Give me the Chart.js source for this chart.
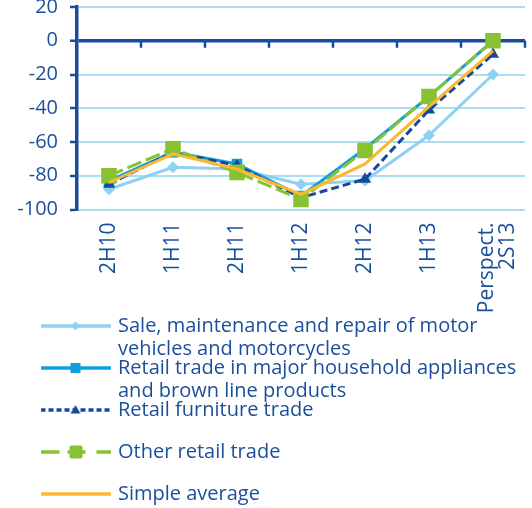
<!DOCTYPE html>
<html>
<head>
<meta charset="utf-8">
<script src="https://cdn.jsdelivr.net/npm/chart.js@4.4.0/dist/chart.umd.min.js"></script>
<style>
  html, body { margin: 0; padding: 0; background: #fff; }
</style>
</head>
<body>
<canvas id="retailChart" width="532" height="508"></canvas>
<script>
// Half-year periods on the x axis
const periods = ['2H10', '1H11', '2H11', '1H12', '2H12', '1H13', ['Perspect.', '2S13']];

// Balance of opinions per sector
const motorVehicles = [-88, -75, -76, -85, -83, -56, -20];
const householdAppliances = [-83, -66, -73, -92, -64, -33, 0];
const furnitureTrade = [-85, -66, -74, -93, -82, -41, -8];
const otherRetail = [-80, -64, -78, -94, -65, -33, 0];
const simpleAverage = [-84, -67, -76, -91, -73, -39, -6];

const yTicks = [-100, -80, -60, -40, -20, 0, 20];

const seriesNames = [
    ['Sale, maintenance and repair of motor', 'vehicles and motorcycles'],
    ['Retail trade in major household appliances', 'and brown line products'],
    ['Retail furniture trade'],
    ['Other retail trade'],
    ['Simple average']
];

const textBlue = '#1b4f9e';
const axisBlue = '#1a4c9c';
const gridBlue = '#aadcf4';
const lightBlue = '#8fd1f2';
const brightBlue = '#0d9fe0';
const darkBlue = '#17489a';
const green = '#86c232';
const orange = '#fbb832';

Chart.defaults.font.family = "'Open Sans', sans-serif";
Chart.defaults.color = textBlue;

// little line + marker pictures used as legend symbols
function makeSample(color, marker, dashed) {
    const c = document.createElement('canvas');
    c.width = 70;
    c.height = 20;
    const g = c.getContext('2d');
    g.strokeStyle = color;
    g.fillStyle = color;
    g.lineWidth = 3.5;
    const segs = dashed === 'long' ? [[0, 19], [27, 45], [56, 70]] : [[0, 70]];
    if (dashed === 'short') g.setLineDash([5, 3]);
    segs.forEach(s => {
        g.beginPath();
        g.moveTo(s[0], 10);
        g.lineTo(s[1], 10);
        g.stroke();
    });
    g.setLineDash([]);
    g.beginPath();
    if (marker === 'diamond') {
        g.moveTo(35, 5.5); g.lineTo(39.5, 10); g.lineTo(35, 14.5); g.lineTo(30.5, 10);
    } else if (marker === 'square') {
        g.rect(30, 5, 10, 10);
    } else if (marker === 'bigsquare') {
        g.roundRect(29, 3.5, 13, 13, 2);
    } else if (marker === 'triangle') {
        g.moveTo(35, 5); g.lineTo(40, 13.5); g.lineTo(30, 13.5);
    }
    g.closePath();
    g.fill();
    return c;
}

const legendSamples = [
    makeSample(lightBlue, 'diamond'),
    makeSample(brightBlue, 'square'),
    makeSample(darkBlue, 'triangle', 'short'),
    makeSample(green, 'bigsquare', 'long'),
    makeSample(orange, null)
];

// short marks hanging under the zero line between periods
const zeroLineTicks = {
    id: 'zeroLineTicks',
    beforeDatasetsDraw(chart) {
        const { ctx, scales: { x, y } } = chart;
        const y0 = y.getPixelForValue(0);
        ctx.save();
        ctx.strokeStyle = axisBlue;
        ctx.lineWidth = 2.5;
        for (let i = 0; i < periods.length; i++) {
            const xb = x.getPixelForValue(i + 0.5);
            ctx.beginPath();
            ctx.moveTo(xb, y0);
            ctx.lineTo(xb, y0 + 7);
            ctx.stroke();
        }
        ctx.restore();
    }
};

// let the y labels use the left margin, let long period labels run into
// the legend area, and centre two-line period labels on their tick
const layoutTweaks = {
    id: 'layoutTweaks',
    afterLayout(chart) {
        chart.scales.y.left = 0;
        chart.scales.x.bottom += 30;
    },
    beforeDraw(chart) {
        const items = chart.scales.x.getLabelItems();
        items.forEach(item => {
            if (Array.isArray(item.label)) {
                item.options.translation[0] -= (item.label.length - 1) * item.font.lineHeight * 0.3;
            }
        });
    }
};

const ctx = document.getElementById('retailChart').getContext('2d');
new Chart(ctx, {
    type: 'line',
    data: {
        labels: periods,
        datasets: [
            {
                label: seriesNames[0].join(' '),
                data: motorVehicles,
                borderColor: lightBlue,
                backgroundColor: lightBlue,
                borderWidth: 3,
                pointStyle: 'rectRot',
                pointRadius: 6,
                pointBorderWidth: 0,
                order: 5
            },
            {
                label: seriesNames[1].join(' '),
                data: householdAppliances,
                borderColor: brightBlue,
                backgroundColor: brightBlue,
                borderWidth: 3,
                pointStyle: 'rect',
                pointRadius: 7.5,
                pointBorderWidth: 0,
                order: 4
            },
            {
                label: seriesNames[2].join(' '),
                data: furnitureTrade,
                borderColor: darkBlue,
                backgroundColor: darkBlue,
                borderWidth: 3,
                borderDash: [8, 4],
                pointStyle: 'triangle',
                pointRadius: 7,
                pointBorderWidth: 0,
                order: 3
            },
            {
                label: seriesNames[3].join(' '),
                data: otherRetail,
                borderColor: green,
                backgroundColor: green,
                borderWidth: 3,
                borderDash: [15, 5],
                pointStyle: 'rect',
                pointRadius: 11,
                pointBorderWidth: 0,
                order: 2
            },
            {
                label: seriesNames[4].join(' '),
                data: simpleAverage,
                borderColor: orange,
                backgroundColor: orange,
                borderWidth: 3,
                pointRadius: 0,
                order: 1
            }
        ]
    },
    options: {
        responsive: false,
        animation: false,
        layout: {
            autoPadding: false,
            padding: { left: 21, right: 7, top: 7, bottom: -6 }
        },
        scales: {
            x: {
                offset: true,
                grid: { display: false, drawTicks: false },
                border: { display: false },
                ticks: {
                    autoSkip: false,
                    maxRotation: 90,
                    minRotation: 90,
                    padding: 13,
                    color: textBlue,
                    font: { size: 21, lineHeight: 1.0 }
                },
                afterFit(scale) {
                    scale.height = 84.5;
                    scale.paddingLeft = 0;
                    scale.paddingRight = 0;
                }
            },
            y: {
                min: yTicks[0],
                max: yTicks[yTicks.length - 1],
                afterBuildTicks(scale) {
                    scale.ticks = yTicks.map(v => ({ value: v }));
                },
                grid: {
                    color: c => c.tick && c.tick.value === 0 ? axisBlue : gridBlue,
                    lineWidth: c => c.tick && c.tick.value === 0 ? 3.5 : 2,
                    tickColor: axisBlue,
                    tickLength: 7,
                    tickWidth: 2.5
                },
                border: { color: axisBlue, width: 3.5 },
                ticks: {
                    padding: 12,
                    color: textBlue,
                    font: { size: 20, lineHeight: 0.7 }
                },
                afterFit(scale) {
                    scale.width = 56;
                    scale.paddingTop = 0;
                    scale.paddingBottom = 0;
                }
            }
        },
        plugins: {
            tooltip: { enabled: false },
            legend: {
                position: 'bottom',
                align: 'start',
                labels: {
                    usePointStyle: true,
                    pointStyleWidth: 65,
                    padding: 22,
                    color: textBlue,
                    font: { size: 20, lineHeight: 1.15 },
                    generateLabels(chart) {
                        const items = Chart.defaults.plugins.legend.labels.generateLabels(chart);
                        items.sort((a, b) => a.datasetIndex - b.datasetIndex);
                        items.forEach(item => {
                            item.pointStyle = legendSamples[item.datasetIndex];
                            item.text = seriesNames[item.datasetIndex];
                        });
                        return items;
                    }
                }
            }
        }
    },
    plugins: [zeroLineTicks, layoutTweaks]
});
</script>
</body>
</html>
